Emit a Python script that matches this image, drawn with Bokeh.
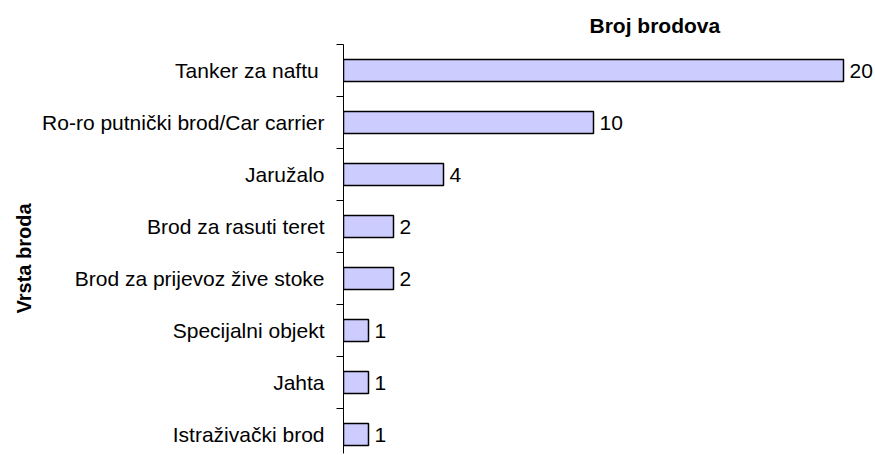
from bokeh.plotting import figure
from bokeh.models import Range1d, FixedTicker, ColumnDataSource, Title
from bokeh.core.properties import value
from bokeh.embed import file_html
from bokeh.resources import INLINE

categories = ["Tanker za naftu ", "Ro-ro putnički brod/Car carrier", "Jaružalo",
              "Brod za rasuti teret", "Brod za prijevoz žive stoke",
              "Specijalni objekt", "Jahta", "Istraživački brod"]
counts = [20, 10, 4, 2, 2, 1, 1, 1]
title_text = "Broj brodova"
axis_title = "Vrsta broda"

pos = list(range(len(categories)))
labels = [str(c) for c in counts]
src = ColumnDataSource(dict(y=pos, v=counts, lab=labels))

FONT = "Liberation Sans"

p = figure(width=875, height=455, output_backend="svg", toolbar_location=None,
           x_range=Range1d(0, 21.28), y_range=Range1d(7.365, -0.5),
           min_border_left=343, min_border_right=0, min_border_top=44,
           min_border_bottom=2)
p.outline_line_color = None
p.grid.visible = False
p.xaxis.visible = False
p.background_fill_color = "white"
p.border_fill_color = "white"

p.hbar(y="y", left=0, right="v", height=0.42, source=src,
       fill_color="#CCCCFF", line_color="black", line_width=1.5)
p.text(x="v", y="y", text="lab", source=src, x_offset=6,
       text_baseline="middle", text_align="left",
       text_font=value(FONT), text_font_size="21px", text_color="black")

ax = p.yaxis[0]
ax.ticker = FixedTicker(ticks=pos, minor_ticks=[i - 0.5 for i in range(len(categories) + 1)])
ax.major_label_overrides = {i: c for i, c in zip(pos, categories)}
ax.major_tick_line_color = None
ax.major_tick_out = 0
ax.major_tick_in = 0
ax.minor_tick_out = 7
ax.minor_tick_in = 0
ax.minor_tick_line_color = "black"
ax.axis_line_color = "black"
ax.major_label_standoff = 12
ax.major_label_text_font = FONT
ax.major_label_text_font_size = "21px"
ax.major_label_text_color = "black"

t = Title(text=title_text, align="left", offset=246, standoff=16, text_font=FONT,
          text_font_size="21px", text_font_style="bold", text_color="black")
p.add_layout(t, "above")

lt = Title(text=axis_title, align="left", offset=140, text_font=FONT,
           text_font_size="20px", text_font_style="bold", text_color="black")
p.add_layout(lt, "left")

open("out.html", "w").write(file_html(p, INLINE))
